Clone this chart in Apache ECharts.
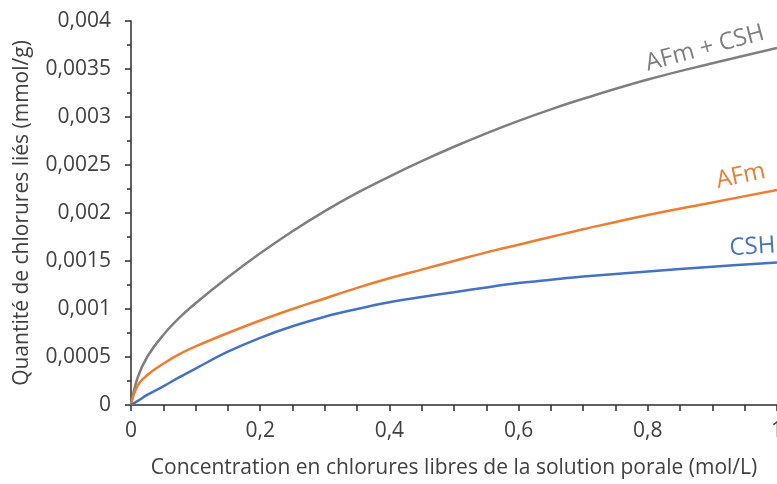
<!DOCTYPE html>
<html>
<head>
<meta charset="utf-8">
<script src="https://cdn.jsdelivr.net/npm/echarts@6/dist/echarts.min.js"></script>
<style>
  html, body { margin: 0; padding: 0; background: #fff; }
  #chart { width: 777px; height: 484px; }
</style>
</head>
<body>
<div id="chart"></div>
<script>
// Free chloride concentration (mol/L)
var concentration = [0, 0.01, 0.025, 0.05, 0.075, 0.1, 0.15, 0.2, 0.25, 0.3, 0.35, 0.4, 0.45, 0.5, 0.55, 0.6, 0.65, 0.7, 0.8, 0.9, 1];
// Bound chlorides (mmol/g)
var afmCsh = [0, 0.00028, 0.0005, 0.00073, 0.00091, 0.00106, 0.00133, 0.00158, 0.00181, 0.00202, 0.00221, 0.00238, 0.00254, 0.00269, 0.00283, 0.00296, 0.00308, 0.00319, 0.00339, 0.00356, 0.00372];
var afm    = [0, 0.0002, 0.00031, 0.00043, 0.00053, 0.00061, 0.00075, 0.00088, 0.001, 0.00111, 0.00122, 0.00132, 0.00141, 0.0015, 0.00159, 0.00167, 0.00175, 0.00183, 0.00198, 0.00211, 0.00224];
var csh    = [0, 0.00004, 0.000105, 0.000195, 0.00029, 0.00038, 0.000555, 0.0007, 0.00082, 0.00092, 0.001, 0.00107, 0.001125, 0.001175, 0.001225, 0.00127, 0.001305, 0.001338, 0.00139, 0.00144, 0.001485];

var seriesNames = ['AFm + CSH', 'AFm', 'CSH'];
var seriesColors = ['#7f7f7f', '#ed7d31', '#4472c4'];
// label anchor points (data space) and rotation
var labelAnchors = [[0.8885, 0.003716], [0.944, 0.002385], [0.962, 0.001646]];
var labelRotate = [15, 12, 3.5];

var xTitle = 'Concentration en chlorures libres de la solution porale (mol/L)';
var yTitle = 'Quantité de chlorures liés (mmol/g)';

function pairs(xs, ys) { return xs.map(function (x, i) { return [x, ys[i]]; }); }
function fmt(v) { return String(Number(v.toFixed(5))).replace('.', ','); }

var FONT = '"Open Sans", sans-serif';
var TEXT = '#404040';
var AXIS = '#2b2b2b';

var allValues = [afmCsh, afm, csh];
var series = allValues.map(function (vals, i) {
  return {
    name: seriesNames[i],
    type: 'line',
    data: pairs(concentration, vals),
    smooth: 0.4,
    showSymbol: false,
    symbol: 'none',
    lineStyle: { color: seriesColors[i], width: 2.5 },
    itemStyle: { color: seriesColors[i] },
    silent: true,
    markPoint: {
      symbol: 'circle',
      symbolSize: 0,
      silent: true,
      data: [{ coord: labelAnchors[i], value: seriesNames[i] }],
      label: {
        show: true,
        position: 'inside',
        formatter: seriesNames[i],
        rotate: labelRotate[i],
        color: seriesColors[i],
        fontFamily: FONT,
        fontSize: 24
      }
    }
  };
});

var chart = echarts.init(document.getElementById('chart'), null, { renderer: 'canvas' });
chart.setOption({
  animation: false,
  backgroundColor: '#ffffff',
  grid: { left: 131, right: 0, top: 21, bottom: 79, containLabel: false, outerBoundsMode: 'none' },
  xAxis: {
    type: 'value',
    min: 0, max: 1, interval: 0.2,
    name: xTitle,
    nameLocation: 'middle',
    nameGap: 53,
    nameTextStyle: { fontFamily: FONT, fontSize: 21, color: TEXT },
    axisLine: { show: true, onZero: false, lineStyle: { color: AXIS, width: 1.5 } },
    axisTick: { show: true, inside: false, length: 6, lineStyle: { color: AXIS, width: 1.5 } },
    minorTick: { show: true, splitNumber: 4, length: 6, lineStyle: { color: AXIS, width: 1.5 } },
    splitLine: { show: false },
    axisLabel: { fontFamily: FONT, fontSize: 21, color: TEXT, margin: 16, showMaxLabel: true, hideOverlap: false, formatter: fmt }
  },
  yAxis: {
    type: 'value',
    min: 0, max: 0.004, interval: 0.0005,
    name: yTitle,
    nameLocation: 'middle',
    nameGap: 98,
    nameRotate: 90,
    nameTextStyle: { fontFamily: FONT, fontSize: 21, color: TEXT },
    axisLine: { show: true, lineStyle: { color: AXIS, width: 1.5 } },
    axisTick: { show: true, inside: false, length: 6, lineStyle: { color: AXIS, width: 1.5 } },
    minorTick: { show: true, splitNumber: 2, length: 4, lineStyle: { color: AXIS, width: 1.5 } },
    splitLine: { show: false },
    axisLabel: { fontFamily: FONT, fontSize: 21, color: TEXT, margin: 20, formatter: fmt }
  },
  series: series
});
</script>
</body>
</html>
